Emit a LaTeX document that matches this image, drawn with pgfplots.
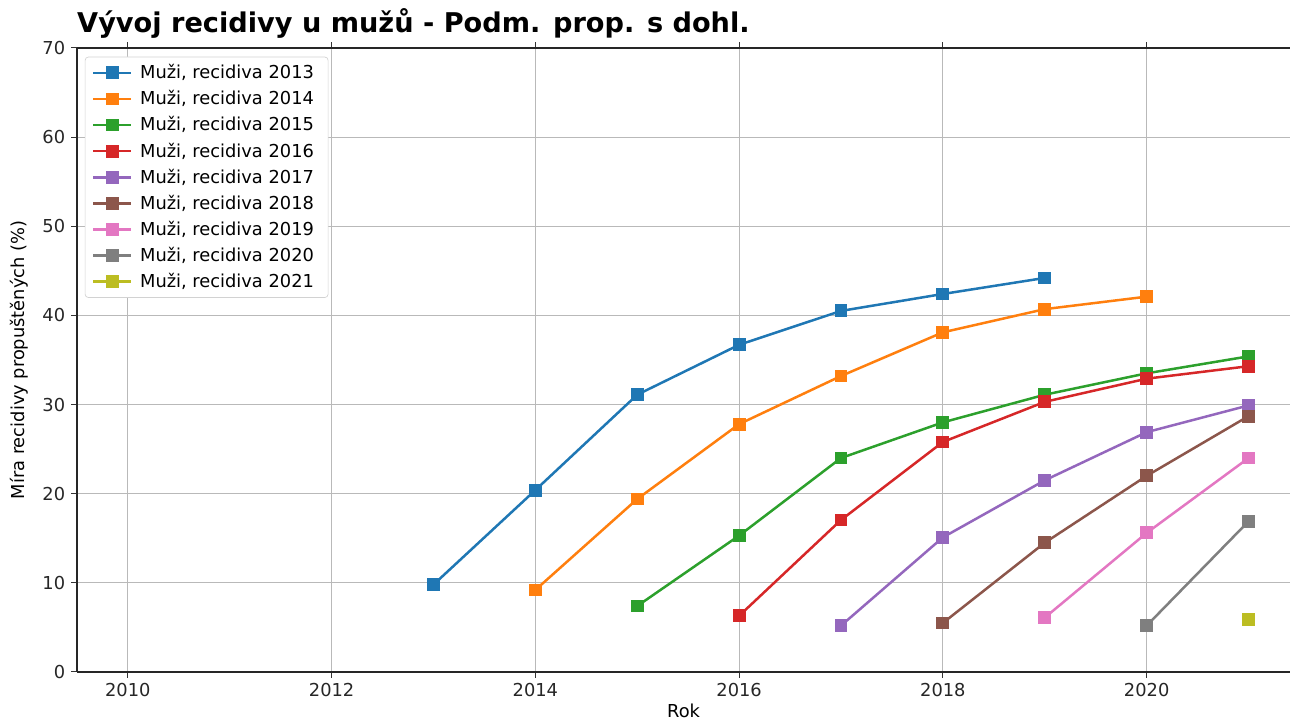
\documentclass[border={3pt 1.5pt 0pt 2pt}]{standalone}
\usepackage{pgfplots}
\pgfplotsset{compat=1.18}
\usepackage{fontspec}
\setmainfont{DejaVu Sans}
\definecolor{c1}{HTML}{1F77B4}
\definecolor{c2}{HTML}{FF7F0E}
\definecolor{c3}{HTML}{2CA02C}
\definecolor{c4}{HTML}{D62728}
\definecolor{c5}{HTML}{9467BD}
\definecolor{c6}{HTML}{8C564B}
\definecolor{c7}{HTML}{E377C2}
\definecolor{c8}{HTML}{7F7F7F}
\definecolor{c9}{HTML}{BCBD22}
\begin{document}
\begin{tikzpicture}
\begin{axis}[
  width=728pt, height=374.4pt, scale only axis,
  xmin=2009.5, xmax=2021.41, ymin=0, ymax=70,
  axis y line*=left,
  xtick={2010,2012,...,2020},
  ytick={0,10,...,70},
  /pgf/number format/assume math mode=true,
  /pgf/number format/1000 sep={},
  tick label style={font=\fontsize{10.7}{12.8}\selectfont, text=black!85},
  tick align=outside,
  major tick length=3.5pt,
  tick style={black!80, line width=0.6pt},
  grid=major,
  grid style={gray!55, line width=0.5pt},
  axis line style={black!85, line width=0.8pt},
  xlabel={Rok}, ylabel={Míra recidivy propuštěných (\%)},
  xlabel style={yshift=3pt},
  ylabel style={yshift=1.5pt},
  label style={font=\fontsize{10.7}{12.8}\selectfont},
  title={\textbf{Vývoj recidivy u mužů - Podm. prop. s dohl.}},
  title style={font=\fontsize{16.3}{19}\selectfont, anchor=south west, at={(0,1)}, yshift=-4pt, inner xsep=0pt},
  legend style={font=\fontsize{10.7}{12.8}\selectfont, draw=gray!35, rounded corners=2pt, row sep=1.6pt, at={(0.0065,0.986)}, anchor=north west, inner xsep=4pt, inner ysep=2.5pt,
    nodes={inner xsep=4.5pt},
    legend image code/.code={\draw[mark repeat=2,mark phase=2] plot coordinates {(0pt,0pt)(11.5pt,0pt)(23pt,0pt)};}},
  legend cell align=left,
  every axis plot/.append style={line width=1.5pt, mark=square*, mark size=3.1pt},
]
\addplot[c1, mark options={fill=c1}] coordinates {(2013,9.8)(2014,20.4)(2015,31.1)(2016,36.7)(2017,40.5)(2018,42.4)(2019,44.2)};
\addlegendentry{Muži, recidiva 2013}
\addplot[c2, mark options={fill=c2}] coordinates {(2014,9.2)(2015,19.4)(2016,27.8)(2017,33.2)(2018,38.1)(2019,40.7)(2020,42.1)};
\addlegendentry{Muži, recidiva 2014}
\addplot[c3, mark options={fill=c3}] coordinates {(2015,7.4)(2016,15.3)(2017,24.0)(2018,28.0)(2019,31.1)(2020,33.5)(2021,35.4)};
\addlegendentry{Muži, recidiva 2015}
\addplot[c4, mark options={fill=c4}] coordinates {(2016,6.3)(2017,17.05)(2018,25.8)(2019,30.3)(2020,32.9)(2021,34.3)};
\addlegendentry{Muži, recidiva 2016}
\addplot[c5, mark options={fill=c5}] coordinates {(2017,5.2)(2018,15.1)(2019,21.5)(2020,26.9)(2021,29.9)};
\addlegendentry{Muži, recidiva 2017}
\addplot[c6, mark options={fill=c6}] coordinates {(2018,5.5)(2019,14.5)(2020,22.0)(2021,28.7)};
\addlegendentry{Muži, recidiva 2018}
\addplot[c7, mark options={fill=c7}] coordinates {(2019,6.1)(2020,15.6)(2021,24.0)};
\addlegendentry{Muži, recidiva 2019}
\addplot[c8, mark options={fill=c8}] coordinates {(2020,5.2)(2021,16.9)};
\addlegendentry{Muži, recidiva 2020}
\addplot[c9, mark options={fill=c9}] coordinates {(2021,5.9)};
\addlegendentry{Muži, recidiva 2021}
\end{axis}
\end{tikzpicture}
\end{document}
